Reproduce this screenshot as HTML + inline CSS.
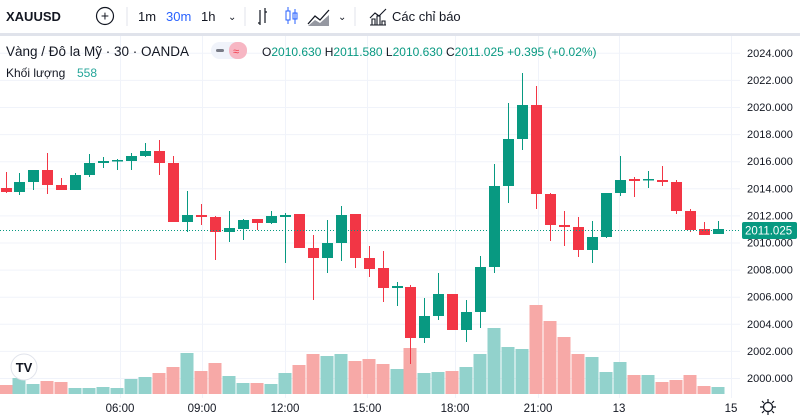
<!DOCTYPE html>
<html><head><meta charset="utf-8"><style>
body{margin:0;width:800px;height:420px;overflow:hidden;background:#fff;font-family:"Liberation Sans",sans-serif;}
svg{position:absolute;left:0;top:0}
</style></head><body>
<svg id="s" width="800" height="420" xmlns="http://www.w3.org/2000/svg" font-family="Liberation Sans, sans-serif">
<rect width="800" height="420" fill="#fff"/>
<g id="grid" stroke="#f0f3fa" stroke-width="1"></g>
<g id="vol"></g>
<g id="cnd"></g>
<line x1="0" y1="230.5" x2="740" y2="230.5" stroke="#089981" stroke-width="1" stroke-dasharray="1,2"/>
<!-- toolbar -->
<rect x="0" y="0" width="800" height="33" fill="#fff"/>
<rect x="0" y="33" width="800" height="3" fill="#e0e3eb"/>
<text x="6" y="21" font-size="13" font-weight="bold" fill="#131722">XAUUSD</text>
<circle cx="105" cy="16" r="8.5" fill="none" stroke="#131722" stroke-width="1.2"/>
<text x="105" y="20.5" font-size="14" text-anchor="middle" fill="#131722">+</text>
<line x1="127" y1="7" x2="127" y2="26" stroke="#e0e3eb"/>
<text x="138" y="21" font-size="13" fill="#131722">1m</text>
<text x="166" y="21" font-size="13" fill="#2962ff">30m</text>
<text x="201" y="21" font-size="13" fill="#131722">1h</text>
<text x="228" y="20" font-size="10" fill="#131722">⌄</text>
<line x1="245" y1="7" x2="245" y2="26" stroke="#e0e3eb"/>
<path d="M260 10v15M258 23h2M265 8v15M265 12h2" stroke="#131722" fill="none" stroke-width="1.2"/>
<rect x="286" y="11" width="4" height="9" fill="none" stroke="#2962ff"/><path d="M288 7v4M288 20v4M295 9v15" stroke="#2962ff"/><rect x="293" y="13" width="4" height="6" fill="none" stroke="#2962ff"/>
<path d="M308 24l7-8 5 4 9-10" stroke="#131722" fill="none" stroke-width="1.3"/><path d="M308 26l7-6 5 3 9-8v11z" fill="#9598a1"/>
<text x="338" y="20" font-size="10" fill="#131722">⌄</text>
<line x1="355" y1="7" x2="355" y2="26" stroke="#e0e3eb"/>
<path d="M370 25h16M372 25v-6h3v6M377 25v-9h3v9M382 25v-4h3v4M370 18l5-5 4 3 7-7" stroke="#131722" fill="none" stroke-width="1.1"/>
<text x="392" y="21" font-size="13" fill="#131722">Các chỉ báo</text>
<!-- legend -->
<text x="6" y="56" font-size="13.5" fill="#131722">Vàng / Đô la Mỹ · 30 · OANDA</text>
<rect x="211" y="42" width="36" height="17" rx="8.5" fill="#f0f3fa"/><rect x="229" y="42" width="18" height="17" rx="8" fill="#f7b6c3"/>
<rect x="216" y="49" width="8" height="3" rx="1.5" fill="#787b86"/>
<text x="233" y="55" font-size="11" fill="#f23645">≈</text>
<text x="262" y="56" font-size="12" fill="#131722">O<tspan fill="#089981">2010.630</tspan> H<tspan fill="#089981">2011.580</tspan> L<tspan fill="#089981">2010.630</tspan> C<tspan fill="#089981">2011.025 +0.395 (+0.02%)</tspan></text>
<text x="6" y="77" font-size="12" fill="#131722">Khối lượng</text>
<text x="77" y="77" font-size="12" fill="#26a69a">558</text>
<g id="ax" font-size="11" fill="#131722"></g>
<rect x="742" y="222" width="55" height="17" rx="2" fill="#089981"/>
<text x="745" y="234.5" font-size="11.5" fill="#fff">2011.025</text>
<g font-size="11.5" fill="#131722" text-anchor="middle">
<text x="120" y="412">06:00</text><text x="202" y="412">09:00</text><text x="285" y="412">12:00</text><text x="367" y="412">15:00</text><text x="455" y="412">18:00</text><text x="538" y="412">21:00</text><text x="619" y="412">13</text><text x="731" y="412">15</text></g>
<circle cx="768" cy="407" r="4.5" fill="none" stroke="#131722" stroke-width="1.3"/>
<path d="M768 399v3M768 412v3M760 407h3M773 407h3M762 401l2 2M772 411l2 2M762 413l2-2M772 403l2-2" stroke="#131722" stroke-width="1.2"/>
<circle cx="24" cy="367" r="13" fill="#fff" stroke="#e0e3eb"/>
<text x="24" y="372" font-size="13" font-weight="bold" text-anchor="middle" fill="#131722">TV</text>
</svg>
<script>
var NS="http://www.w3.org/2000/svg";
function el(p,t,a){var e=document.createElementNS(NS,t);for(var k in a)e.setAttribute(k,a[k]);p.appendChild(e);return e;}
var g=document.getElementById('grid'),ax=document.getElementById('ax');
for(var i=0;i<=12;i++){var y=378-i*27.1;el(g,'line',{x1:0,x2:740,y1:y+.5,y2:y+.5});var t=el(ax,'text',{x:747,y:y+4});t.textContent=(2000+2*i)+".000";}
[120,202,285,367,455,538,619,731].forEach(function(x){el(g,'line',{x1:x+.5,x2:x+.5,y1:36,y2:398});});
// [x, type, bodyTop, bodyBot, wickTop, wickBot] type g/r
var C=[[6,'r',188,192,172,193],[19,'g',182,192,173,195],[33,'g',170,182,170,190],[47,'r',170,185,153,194],[61,'r',185,190,178,190],[75,'g',175,190,173,190],[89,'g',163,175,154,177],[103,'g',161,163,157,168],[117,'g',160,161,159,170],[131,'g',156,161,153,170],[145,'g',151,156,143,157],[159,'r',151,163,140,175],[173,'r',163,222,156,222],[187,'g',215,222,191,232],[201,'r',215,217,204,225],[215,'r',217,232,216,260],[229,'g',228,232,211,242],[243,'g',220,229,219,240],[257,'r',219,223,219,230],[271,'g',216,223,211,224],[285,'g',215,217,213,263],[299,'r',214,248,214,248],[313,'r',248,258,235,300],[327,'g',243,258,220,273],[341,'g',215,243,206,261],[355,'r',214,258,214,268],[369,'r',258,269,246,277],[383,'r',268,288,251,302],[397,'g',286,288,282,306],
[410,'r',287,338,285,364],[424,'g',316,338,298,343],[438,'g',294,316,273,320],[452,'r',294,330,294,330],[466,'g',312,330,300,342],[480,'g',267,312,256,328],[494,'g',186,267,164,273],[508,'g',139,186,103,203],[522,'g',105,139,73,150],[536,'r',105,194,86,209],[550,'r',194,225,193,241],[564,'r',225,227,211,246],[578,'r',227,250,217,257],[592,'g',237,250,221,263],[606,'g',193,237,193,238],[620,'g',180,193,156,196],[634,'r',179,181,177,197],[648,'g',179,180,171,188],[662,'r',180,182,166,186],[676,'r',182,211,180,214],[690,'r',211,230,209,232],[704,'r',229,235,222,235],[718,'g',229,234,221,234]];
var V=[385,378,384,381,382,388,388,387,388,379,377,373,367,353,371,363,376,383,383,384,373,365,354,356,354,361,359,364,369,348,373,372,371,367,354,328,347,349,305,321,337,354,357,372,362,375,375,382,380,375,386,387];
var VC=['r','g','g','r','r','g','g','g','g','g','g','r','r','g','r','r','g','g','r','g','g','r','r','g','g','r','r','r','g','r','g','g','r','g','g','g','g','g','r','r','r','r','g','g','g','r','g','r','r','r','r','g'];
var cg=document.getElementById('cnd'),vg=document.getElementById('vol');
C.forEach(function(c,i){var col=c[1]=='g'?'#089981':'#f23645';
el(cg,'line',{x1:c[0]+.5,x2:c[0]+.5,y1:c[4],y2:c[5],stroke:col,'stroke-width':1});
el(cg,'rect',{x:c[0]-5,y:c[2],width:11,height:Math.max(1.5,c[3]-c[2]),fill:col});
var vcol=VC[i]=='g'?'#92d2cc':'#f7a9a7';
el(vg,'rect',{x:c[0]-6.5,y:V[i],width:13,height:394-V[i],fill:vcol});});
</script>
</body></html>
